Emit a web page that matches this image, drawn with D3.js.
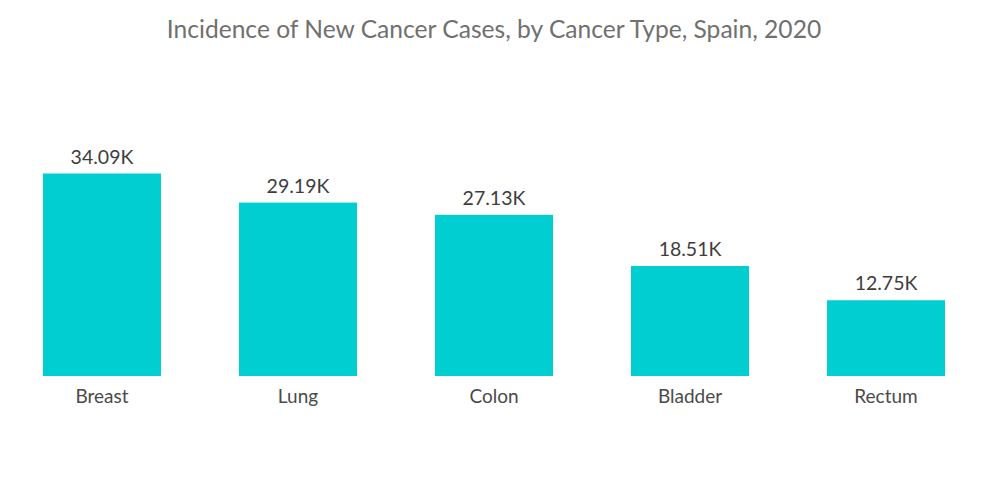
<!DOCTYPE html>
<html>
<head>
<meta charset="utf-8">
<script src="https://cdn.jsdelivr.net/npm/d3@7"></script>
<style>
  html, body { margin: 0; padding: 0; background: #fff; }
  svg { display: block; font-family: Lato, "Open Sans", sans-serif; }
</style>
</head>
<body>
<svg id="chart" width="1000" height="504"></svg>
<script>
const categories = ["Breast", "Lung", "Colon", "Bladder", "Rectum"];
const values = [34.09, 29.19, 27.13, 18.51, 12.75];
const valueLabels = ["34.09K", "29.19K", "27.13K", "18.51K", "12.75K"];
const title = "Incidence of New Cancer Cases, by Cancer Type, Spain, 2020";

const svg = d3.select("#chart");
const baseline = 376;

const x = d3.scaleBand()
  .domain(categories)
  .range([3, 985])
  .paddingInner(0.398)
  .paddingOuter(0.204);

const y = d3.scaleLinear()
  .domain([0, 34.09])
  .range([baseline, 173.5]);

svg.append("text")
  .attr("x", 494)
  .attr("y", 38)
  .attr("text-anchor", "middle")
  .attr("fill", "#707070")
  .attr("font-size", 24.6)
  .text(title);

const data = categories.map((c, i) => ({ c, v: values[i], l: valueLabels[i] }));

svg.selectAll("rect.bar")
  .data(data)
  .join("rect")
  .attr("class", "bar")
  .attr("x", d => x(d.c))
  .attr("width", x.bandwidth())
  .attr("y", d => y(d.v))
  .attr("height", d => y(0) - y(d.v))
  .attr("fill", "#00CED1");

svg.selectAll("text.val")
  .data(data)
  .join("text")
  .attr("class", "val")
  .attr("x", d => x(d.c) + x.bandwidth() / 2)
  .attr("y", d => y(d.v) - 10)
  .attr("text-anchor", "middle")
  .attr("fill", "#3d3d3d")
  .attr("font-size", 19.5)
  .text(d => d.l);

const xAxis = d3.axisBottom(x).tickSize(0).tickPadding(0);
const gx = svg.append("g")
  .attr("transform", `translate(0,${baseline})`)
  .call(xAxis);
gx.select(".domain").remove();
gx.selectAll("text")
  .attr("dy", null)
  .attr("y", 27)
  .attr("fill", "#4a4a4a")
  .attr("font-size", 19)
  .attr("font-family", "Lato, 'Open Sans', sans-serif");
</script>
</body>
</html>
